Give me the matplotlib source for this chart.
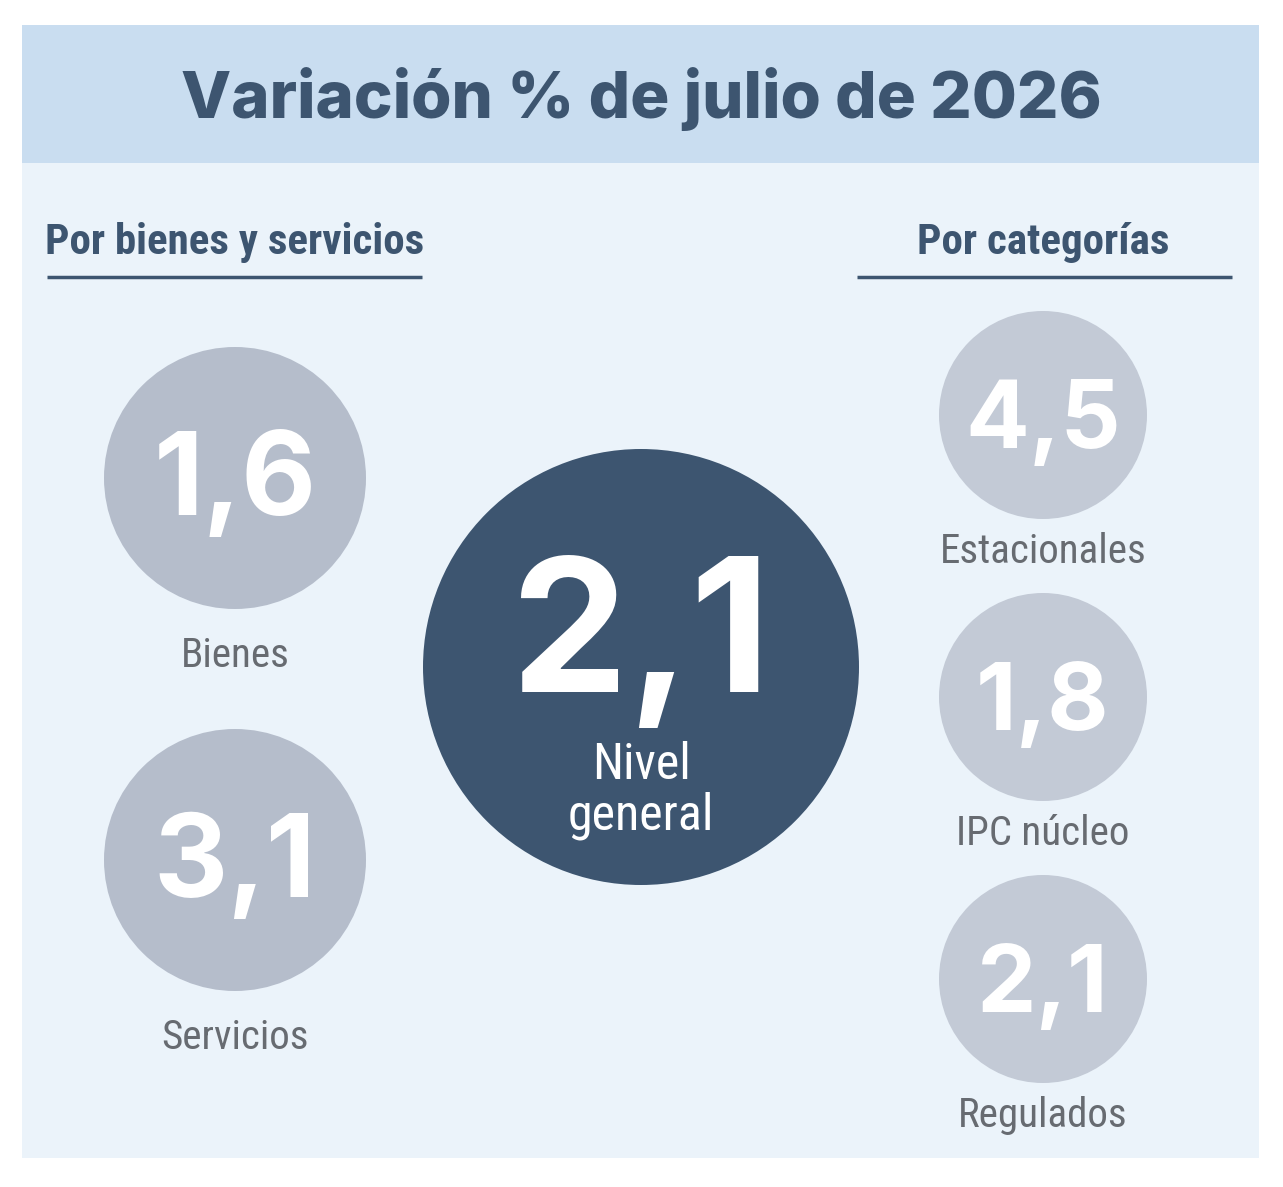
import matplotlib
matplotlib.use("Agg")
import matplotlib.pyplot as plt
from matplotlib.patches import Rectangle, Circle

# ---------------------------------------------------------------
# Data
# ---------------------------------------------------------------
TITLE = "Variación % de julio de 2026"

left_header = "Por bienes y servicios"
left_labels = ["Bienes", "Servicios"]
left_values = ["1,6", "3,1"]

center_label_lines = ["Nivel", "general"]
center_value = "2,1"

right_header = "Por categorías"
right_labels = ["Estacionales", "IPC núcleo", "Regulados"]
right_values = ["4,5", "1,8", "2,1"]

# ---------------------------------------------------------------
# Style / layout (pixel units, origin top-left)
# ---------------------------------------------------------------
W, H = 1283, 1187
NAVY = "#3d5570"
HEAD_BG = "#c9ddf0"
BODY_BG = "#ebf3fa"
LEFT_CIRC = "#b5bdcb"
RIGHT_CIRC = "#c3cad6"
LABEL_GREY = "#676b71"

NUM_FONT = ["Inter", "DejaVu Sans"]
COND_FONT = ["Roboto Condensed", "Roboto", "DejaVu Sans"]

fig = plt.figure(figsize=(W / 100, H / 100), dpi=100)
ax = fig.add_axes([0, 0, 1, 1])
ax.set_xlim(0, W)
ax.set_ylim(H, 0)
ax.axis("off")

# panel + header band
ax.add_patch(Rectangle((22, 25), 1237, 1133, facecolor=BODY_BG, edgecolor="none"))
ax.add_patch(Rectangle((22, 25), 1237, 138, facecolor=HEAD_BG, edgecolor="none"))
ax.text(641, 118, TITLE, ha="center", va="baseline", fontsize=47,
        fontweight="heavy", color=NAVY, family=NUM_FONT)

# section headers with underline
ax.text(235, 254, left_header, ha="center", va="baseline", fontsize=31,
        fontweight="bold", color=NAVY, family=COND_FONT)
ax.plot([47, 422], [277, 277], color=NAVY, lw=2.5, solid_capstyle="butt")
ax.text(1043, 254, right_header, ha="center", va="baseline", fontsize=31,
        fontweight="bold", color=NAVY, family=COND_FONT)
ax.plot([857, 1232], [277, 277], color=NAVY, lw=2.5, solid_capstyle="butt")

# left column circles
left_centers = [(235, 478), (235, 860)]
for (cx, cy), val, lab in zip(left_centers, left_values, left_labels):
    ax.add_patch(Circle((cx, cy), 131, facecolor=LEFT_CIRC, edgecolor="none"))
    ax.text(cx, cy + 37, val, ha="center", va="baseline", fontsize=83,
            fontweight="bold", color="white", family=NUM_FONT)
    ax.text(cx, cy + 189, lab, ha="center", va="baseline", fontsize=29.5,
            color=LABEL_GREY, family=COND_FONT)

# centre circle
ax.add_patch(Circle((641, 667), 218, facecolor=NAVY, edgecolor="none"))
ax.text(641, 692, center_value, ha="center", va="baseline", fontsize=134,
        fontweight="bold", color="white", family=NUM_FONT)
for yb, line in zip([779, 829], center_label_lines):
    ax.text(641, yb, line, ha="center", va="baseline", fontsize=36,
            color="white", family=COND_FONT)

# right column circles
right_centers = [(1043, 415), (1043, 697), (1043, 979)]
for (cx, cy), val, lab in zip(right_centers, right_values, right_labels):
    ax.add_patch(Circle((cx, cy), 104, facecolor=RIGHT_CIRC, edgecolor="none"))
    ax.text(cx, cy + 33, val, ha="center", va="baseline", fontsize=68,
            fontweight="bold", color="white", family=NUM_FONT)
    ax.text(cx, cy + 148, lab, ha="center", va="baseline", fontsize=29.5,
            color=LABEL_GREY, family=COND_FONT)

fig.savefig("out.png", dpi=100, facecolor="white")
